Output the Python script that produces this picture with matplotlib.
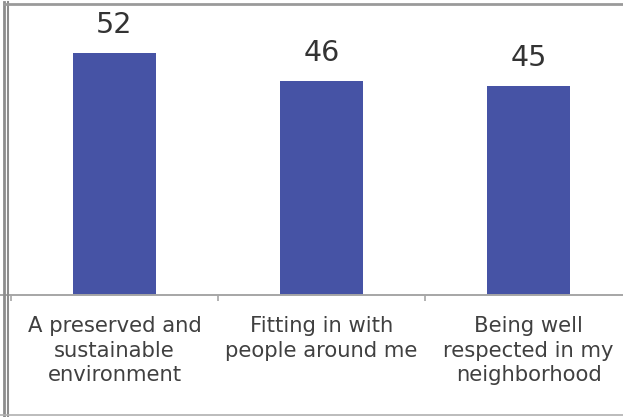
import matplotlib.pyplot as plt
from matplotlib.lines import Line2D

plt.rcParams['font.family'] = ['DejaVu Sans']

categories = ["A preserved and\nsustainable\nenvironment",
              "Fitting in with\npeople around me",
              "Being well\nrespected in my\nneighborhood"]
values = [52, 46, 45]

W, H = 623, 417
fig = plt.figure(figsize=(W / 100, H / 100), dpi=100)

# plot area in pixels: x from 11 to 632, baseline at y=295
ax = fig.add_axes([11 / W, 1 - 295 / H, 621 / W, (295 - 16) / H])
x = list(range(len(values)))
ax.bar(x, values, width=0.4, color="#4653a5", zorder=3)
ax.set_xlim(-0.5, 2.5)
ax.set_ylim(0, 60)

for xi, v in zip(x, values):
    ax.text(xi, v + 3.0, str(v), ha="center", va="bottom",
            fontsize=20.5, color="#333333")

for s in ax.spines.values():
    s.set_visible(False)
ax.set_yticks([])
ax.set_xticks(x)
ax.set_xticklabels(categories, fontsize=15.2, color="#404040", linespacing=1.3)
ax.tick_params(axis="x", which="major", length=0, pad=15)
ax.set_xticks([-0.5, 0.5, 1.5, 2.5], minor=True)
ax.tick_params(axis="x", which="minor", length=4, width=1.2, color="#a6a6a6")


def px_line(x0, y0, x1, y1, color, lw):
    fig.add_artist(Line2D([x0 / W, x1 / W], [1 - y0 / H, 1 - y1 / H],
                          transform=fig.transFigure, color=color, lw=lw))


# frame lines around the chart
px_line(0, 295, W, 295, "#a6a6a6", 1.4)
px_line(4, 2, 4, H, "#8c8c8c", 2.0)
px_line(8, 2, 8, H, "#8c8c8c", 1.5)
px_line(4, 4, W, 4, "#9a9a9a", 2.0)
px_line(0, 415, W, 415, "#b0b0b0", 1.2)

fig.savefig("out.png", dpi=100)
